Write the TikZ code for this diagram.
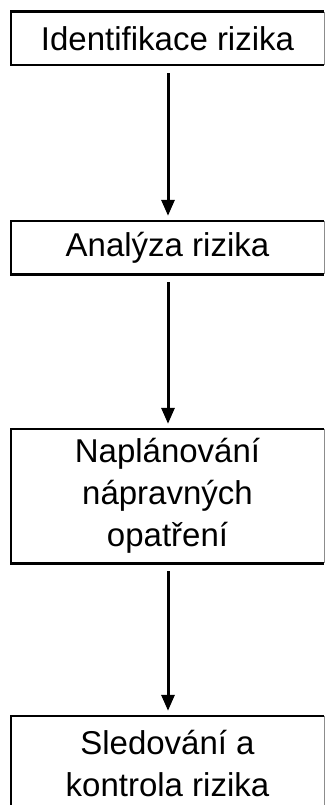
\documentclass[tikz,border=0pt]{standalone}
\usepackage{fontspec}
\setmainfont{Liberation Sans}
\usetikzlibrary{arrows.meta}
\tikzset{
  stepbox/.style={minimum width=313pt, inner sep=0pt, align=center,
    font=\fontsize{33}{42}\selectfont},
  edge/.style={line width=2.6pt, black},
  rim/.style={line width=0.8pt, black!45},
  flow/.style={line width=3pt, -{Triangle[width=13pt,length=16pt]}}
}
\begin{document}
\begin{tikzpicture}[x=1pt,y=-1pt]
  \useasboundingbox (0,0) rectangle (327,805);
  \fill[white] (0,0) rectangle (327,805);

  \node[stepbox, minimum height=53pt] (b1) at (167.5,38.5) {Identifikace rizika};
  \node[stepbox, minimum height=53pt] (b2) at (167.5,247.5) {Analýza rizika};
  \node[stepbox, minimum height=134pt] (b3) at (167.5,496) {Naplánování\\nápravných\\opatření};
  \node[stepbox, minimum height=96pt] (b4) at (167.5,764) {Sledování a\\kontrola rizika};

  % box outlines: heavy left, top and bottom, light right side
  \foreach \b in {b1,b2,b3,b4}{
    \draw[rim] (\b.north east) -- (\b.south east);
    \draw[edge] (\b.north east) -- (\b.north west) -- (\b.south west) -- (\b.south east);
  }

  \draw[flow] ([xshift=0.5pt,yshift=-8pt]b1.south) -- ([xshift=0.5pt,yshift=5pt]b2.north);
  \draw[flow] ([xshift=0.5pt,yshift=-8pt]b2.south) -- ([xshift=0.5pt,yshift=5pt]b3.north);
  \draw[flow] ([xshift=0.5pt,yshift=-8pt]b3.south) -- ([xshift=0.5pt,yshift=5pt]b4.north);
\end{tikzpicture}
\end{document}
